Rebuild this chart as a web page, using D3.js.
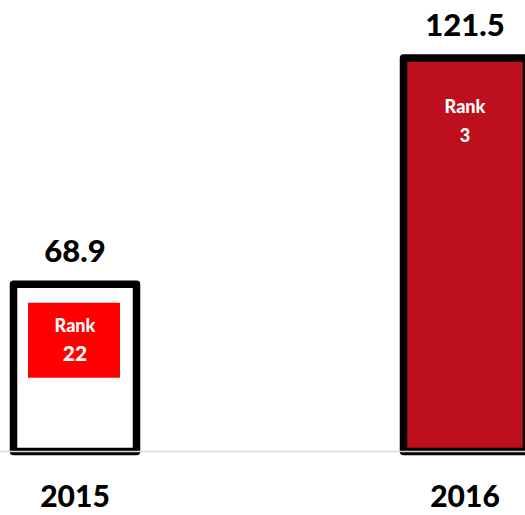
<!DOCTYPE html>
<html>
<head>
<meta charset="utf-8">
<script src="https://cdn.jsdelivr.net/npm/d3@7"></script>
<style>
  html, body { margin: 0; padding: 0; background: #fff; }
  svg { display: block; }
</style>
</head>
<body>
<div id="chart"></div>
<script>
// data
const years = ["2015", "2016"];
const values = [68.9, 121.5];
const ranks = [22, 3];

const width = 525, height = 515;
const baseY = 451.5;
const barW = 123;
const fills = ["#FFFFFF", "#BD0F1D"];
const rankFills = ["#FF0000", "#BD0F1D"];
const rankOffset = [18.5, 25.5];
const font = "Lato, 'Open Sans', sans-serif";

const x = d3.scalePoint()
  .domain(years)
  .range([75, 465]);

const y = d3.scaleLinear()
  .domain([30, 135])
  .range([baseY, 0]);

const svg = d3.select("#chart").append("svg")
  .attr("width", width)
  .attr("height", height);

const data = years.map((yr, i) => ({ year: yr, value: values[i], rank: ranks[i], i }));

// bars
svg.selectAll(".bar")
  .data(data)
  .join("rect")
  .attr("class", "bar")
  .attr("x", d => x(d.year) - barW / 2)
  .attr("y", d => y(d.value))
  .attr("width", barW)
  .attr("height", d => baseY - y(d.value))
  .attr("fill", d => fills[d.i])
  .attr("stroke", "#000")
  .attr("stroke-width", 7.5)
  .attr("stroke-linejoin", "round");

// rank boxes
const rg = svg.selectAll(".rank")
  .data(data)
  .join("g")
  .attr("class", "rank")
  .attr("transform", d => `translate(${x(d.year)},${y(d.value) + rankOffset[d.i]})`);

rg.append("rect")
  .attr("x", -47)
  .attr("y", 0)
  .attr("width", 92)
  .attr("height", 75)
  .attr("fill", d => rankFills[d.i]);

rg.append("text")
  .attr("text-anchor", "middle")
  .attr("y", 29.5)
  .attr("fill", "#fff")
  .style("font-family", font)
  .style("font-weight", "900")
  .style("font-size", "18px")
  .text("Rank");

rg.append("text")
  .attr("text-anchor", "middle")
  .attr("y", 58.5)
  .attr("fill", "#fff")
  .style("font-family", font)
  .style("font-weight", "900")
  .style("font-size", d => d.i === 0 ? "21px" : "18px")
  .text(d => d.rank);

// baseline
svg.append("line")
  .attr("x1", 0)
  .attr("x2", width)
  .attr("y1", baseY)
  .attr("y2", baseY)
  .attr("stroke", "#D9D9D9")
  .attr("stroke-width", 1.5);

// value labels
svg.selectAll(".val")
  .data(data)
  .join("text")
  .attr("class", "val")
  .attr("x", d => x(d.year))
  .attr("y", d => y(d.value) - 22)
  .attr("text-anchor", "middle")
  .style("font-family", font)
  .style("font-weight", "900")
  .style("font-size", "31px")
  .text(d => d.value.toFixed(1));

// year labels
svg.selectAll(".yr")
  .data(data)
  .join("text")
  .attr("class", "yr")
  .attr("x", d => x(d.year))
  .attr("y", 507)
  .attr("text-anchor", "middle")
  .style("font-family", font)
  .style("font-weight", "900")
  .style("font-size", "30px")
  .text(d => d.year);
</script>
</body>
</html>
